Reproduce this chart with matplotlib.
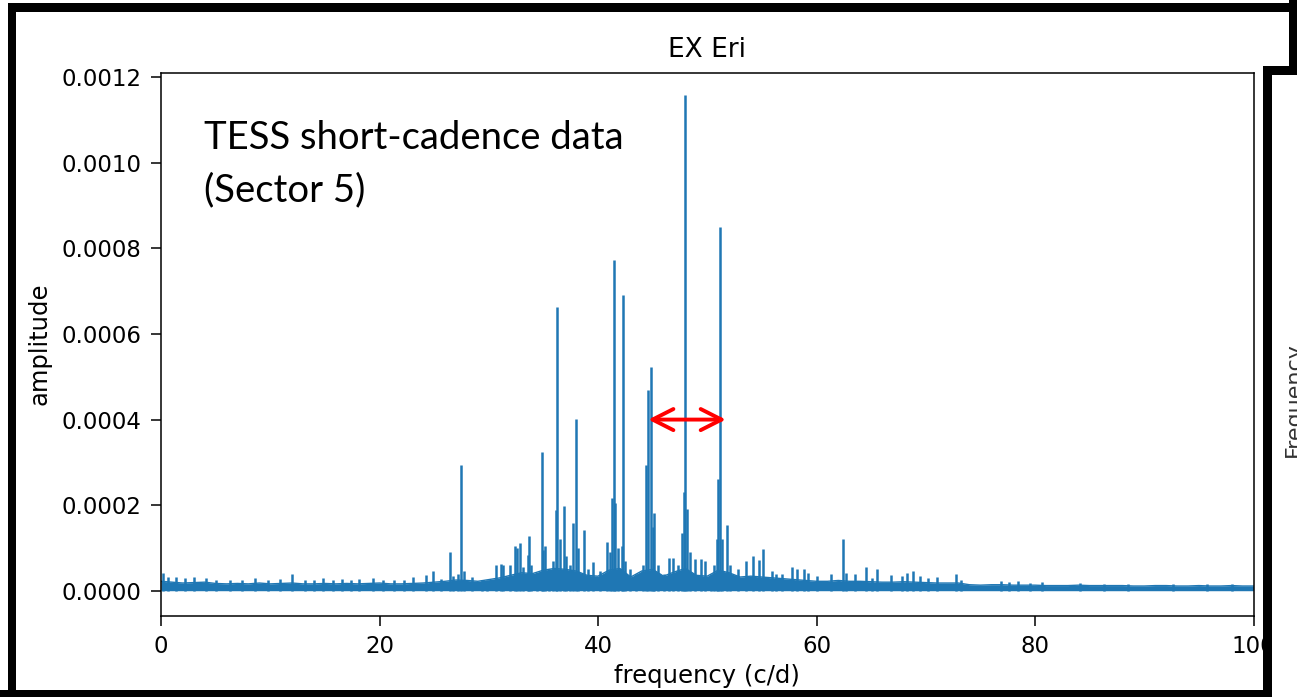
import matplotlib

matplotlib.use("Agg")
import matplotlib.pyplot as plt
from matplotlib.patches import Rectangle

# individual peaks of the amplitude spectrum (c/d, amplitude)
PEAK_FREQ = [
    0.15, 0.65, 1.4, 2.2, 3.0, 4.1, 5.0, 6.3, 7.4, 8.6, 9.8, 10.9, 11.96,
    13.2, 14.0, 14.86, 15.7, 16.6, 17.4, 18.15, 19.4, 20.3, 21.3, 22.2, 23.1,
    24.3, 24.87, 25.6, 26.45, 26.75, 27.2, 27.46, 27.7, 28.5, 29.35, 29.8,
    30.66, 31.1, 31.3, 31.9, 32.4, 32.6, 32.86, 33.1, 33.56, 33.7, 33.9,
    34.45, 34.9, 35.0, 35.15, 35.5, 35.9, 36.2, 36.27, 36.5, 36.86, 37.1,
    37.4, 37.68, 37.98, 38.2, 38.7, 39.1, 39.57, 40.2, 40.85, 41.1, 41.3,
    41.44, 41.6, 41.8, 42.17, 42.29, 42.5, 42.9, 43.5, 44.1, 44.4, 44.6,
    44.85, 45.0, 45.16, 45.5, 46.0, 46.5, 46.9, 47.3, 47.66, 47.85, 47.99,
    48.17, 48.4, 48.9, 49.4, 49.8, 50.3, 50.6, 50.86, 51.0, 51.17, 51.35,
    51.78, 52.1, 52.84, 53.55, 54.16, 54.76, 55.08, 55.9, 56.27, 56.8,
    57.73, 58.2, 58.9, 59.2, 60.07, 61.3, 62.4, 62.7, 63.55, 64.5, 65.05,
    65.5, 66.8, 67.8, 68.25, 68.8, 69.5, 70.2, 71.06, 72.8, 73.2, 76.9,
    77.6, 78.4, 79.5, 80.6, 84.1, 86.3, 88.5, 92.6, 95.7, 98.0,
]
PEAK_AMP = [
    4.2e-5, 3.3e-5, 3.2e-5, 3.0e-5, 3.2e-5, 3.0e-5, 2.6e-5, 2.5e-5, 2.6e-5,
    3.0e-5, 2.6e-5, 2.7e-5, 3.9e-5, 2.6e-5, 2.5e-5, 2.9e-5, 2.4e-5, 2.8e-5,
    2.5e-5, 2.7e-5, 3.0e-5, 2.4e-5, 2.6e-5, 2.5e-5, 3.1e-5, 3.7e-5, 4.7e-5,
    2.8e-5, 9.0e-5, 3.5e-5, 3.8e-5, 2.93e-4, 4.5e-5, 3.1e-5, 2.6e-5, 2.6e-5,
    6.1e-5, 6.3e-5, 6.0e-5, 6.1e-5, 1.05e-4, 1.0e-4, 1.12e-4, 5.5e-5,
    8.4e-5, 1.27e-4, 6.0e-5, 4.2e-5, 3.25e-4, 9.5e-5, 1.04e-4, 5.0e-5,
    7.0e-5, 1.89e-4, 6.62e-4, 1.2e-4, 1.99e-4, 8.0e-5, 6.0e-5, 1.59e-4,
    4.02e-4, 1.0e-4, 1.43e-4, 5.0e-5, 6.8e-5, 4.5e-5, 1.15e-4, 9.0e-5,
    2.16e-4, 7.74e-4, 2.06e-4, 1.0e-4, 1.04e-4, 6.92e-4, 7.0e-5, 5.0e-5,
    4.0e-5, 6.0e-5, 2.95e-4, 4.68e-4, 5.22e-4, 1.5e-4, 1.82e-4, 6.0e-5,
    4.0e-5, 7.7e-5, 7.7e-5, 6.0e-5, 1.35e-4, 2.3e-4, 1.158e-3, 1.9e-4,
    9.0e-5, 7.3e-5, 7.3e-5, 7.0e-5, 4.0e-5, 6.0e-5, 1.2e-4, 2.6e-4,
    8.51e-4, 1.2e-4, 1.54e-4, 6.0e-5, 5.1e-5, 6.9e-5, 8.0e-5, 7.2e-5,
    9.75e-5, 4.5e-5, 4.0e-5, 4.0e-5, 5.5e-5, 5.1e-5, 5.0e-5, 4.2e-5,
    3.5e-5, 4.0e-5, 1.21e-4, 4.1e-5, 3.9e-5, 5.5e-5, 3.0e-5, 5.0e-5,
    3.7e-5, 3.5e-5, 4.2e-5, 4.5e-5, 3.5e-5, 3.0e-5, 3.3e-5, 3.9e-5, 2.5e-5,
    2.2e-5, 2.0e-5, 2.3e-5, 1.8e-5, 2.0e-5, 1.9e-5, 1.6e-5, 1.6e-5, 1.6e-5,
    1.5e-5, 1.5e-5,
]

# noise floor, one value per c/d from 0 to 100
FLOOR_FREQ = list(range(0, 101))
FLOOR_AMP = [
    2.2e-5, 2.0e-5, 1.8e-5, 1.9e-5, 2.0e-5, 1.7e-5, 1.6e-5, 1.7e-5, 1.6e-5, 1.8e-5,
    1.6e-5, 1.7e-5, 1.8e-5, 1.6e-5, 1.6e-5, 1.7e-5, 1.6e-5, 1.7e-5, 1.6e-5, 1.7e-5,
    1.8e-5, 1.6e-5, 1.6e-5, 1.7e-5, 1.8e-5, 2.0e-5, 2.2e-5, 2.5e-5, 2.4e-5, 2.2e-5,
    2.6e-5, 3.0e-5, 3.6e-5, 4.2e-5, 4.0e-5, 4.8e-5, 5.2e-5, 5.0e-5, 4.6e-5, 3.6e-5,
    3.4e-5, 4.8e-5, 5.2e-5, 3.2e-5, 4.6e-5, 5.0e-5, 3.4e-5, 4.4e-5, 5.2e-5, 3.6e-5,
    3.4e-5, 4.8e-5, 4.2e-5, 3.2e-5, 3.4e-5, 3.2e-5, 3.0e-5, 2.8e-5, 2.6e-5, 2.4e-5,
    2.2e-5, 2.2e-5, 2.4e-5, 2.2e-5, 2.2e-5, 2.1e-5, 2.0e-5, 2.0e-5, 2.1e-5, 2.0e-5,
    1.9e-5, 1.8e-5, 1.8e-5, 1.8e-5, 1.4e-5, 1.3e-5, 1.4e-5, 1.4e-5, 1.3e-5, 1.3e-5,
    1.3e-5, 1.2e-5, 1.2e-5, 1.2e-5, 1.3e-5, 1.2e-5, 1.2e-5, 1.2e-5, 1.2e-5, 1.1e-5,
    1.1e-5, 1.2e-5, 1.2e-5, 1.1e-5, 1.1e-5, 1.2e-5, 1.1e-5, 1.1e-5, 1.2e-5, 1.1e-5,
    1.1e-5,
]

X_TICKS = [0, 20, 40, 60, 80, 100]
Y_TICKS = [0.0, 0.0002, 0.0004, 0.0006, 0.0008, 0.0010, 0.0012]
ARROW_FROM, ARROW_TO, ARROW_LEVEL = 44.6, 51.7, 0.0004

W, H = 1297, 697
BLUE = "#1f77b4"

plt.rcParams["font.family"] = ["DejaVu Sans"]
fig = plt.figure(figsize=(W / 100, H / 100), dpi=100)
fig.patch.set_facecolor("white")


def px(x0, y0, w, h):
    # rectangle in image pixels (origin top-left) -> figure fraction
    return (x0 / W, 1 - (y0 + h) / H), w / W, h / H


ax = fig.add_axes([161 / W, 1 - 615.7 / H, 1092.5 / W, 543 / H])
ax.fill_between(FLOOR_FREQ, 0, FLOOR_AMP, color=BLUE, lw=0)
ax.plot(FLOOR_FREQ, FLOOR_AMP, color=BLUE, lw=1)
ax.vlines(PEAK_FREQ, 0, PEAK_AMP, color=BLUE, lw=1.8)

ax.set_xlim(0, 100)
ax.set_ylim(-0.0000584, 0.0012108)
ax.set_xticks(X_TICKS)
ax.set_yticks(Y_TICKS)
ax.set_yticklabels([f"{v:.4f}" for v in Y_TICKS])
ax.tick_params(labelsize=16.5, length=7, width=1.1, pad=7)
for s in ax.spines.values():
    s.set_linewidth(1.1)
ax.set_title("EX Eri", fontsize=19, pad=11.5)
ax.set_xlabel("frequency (c/d)", fontsize=17.5, labelpad=4.5)
ax.set_ylabel("amplitude", fontsize=17.5, labelpad=7)

# slide annotation, two lines placed by their baselines
for txt, base_y in [("TESS short-cadence data", 149.3), ("(Sector 5)", 201.7)]:
    fig.text(204 / W, 1 - base_y / H, txt, fontsize=27.5, family="Lato",
             va="baseline", ha="left")

ax.annotate("", xy=(ARROW_TO, ARROW_LEVEL), xytext=(ARROW_FROM, ARROW_LEVEL),
            arrowprops=dict(arrowstyle="<->,head_length=0.75,head_width=0.38",
                            color="red", lw=2.8, mutation_scale=20,
                            shrinkA=0, shrinkB=0))

# slide frame around the screenshot
black = dict(color="black", lw=0, zorder=6)
for x0, y0, w, h in [(8, 3, 1289, 9), (8, 3, 8, 694), (0, 690, 1272, 7),
                     (1289, 0, 8, 75), (1263, 66, 34, 9), (1263, 66, 9, 631)]:
    xy, w_, h_ = px(x0, y0, w, h)
    fig.add_artist(Rectangle(xy, w_, h_, transform=fig.transFigure, **black))
xy, w_, h_ = px(1272, 75, 25, 622)
fig.add_artist(Rectangle(xy, w_, h_, transform=fig.transFigure, color="white",
                         lw=0, zorder=5))
fig.text(1294 / W, 1 - 400 / H, "Frequency", rotation=90, fontsize=16,
         color="#333333", ha="center", va="center", zorder=7)

fig.savefig("out.png", dpi=100)
